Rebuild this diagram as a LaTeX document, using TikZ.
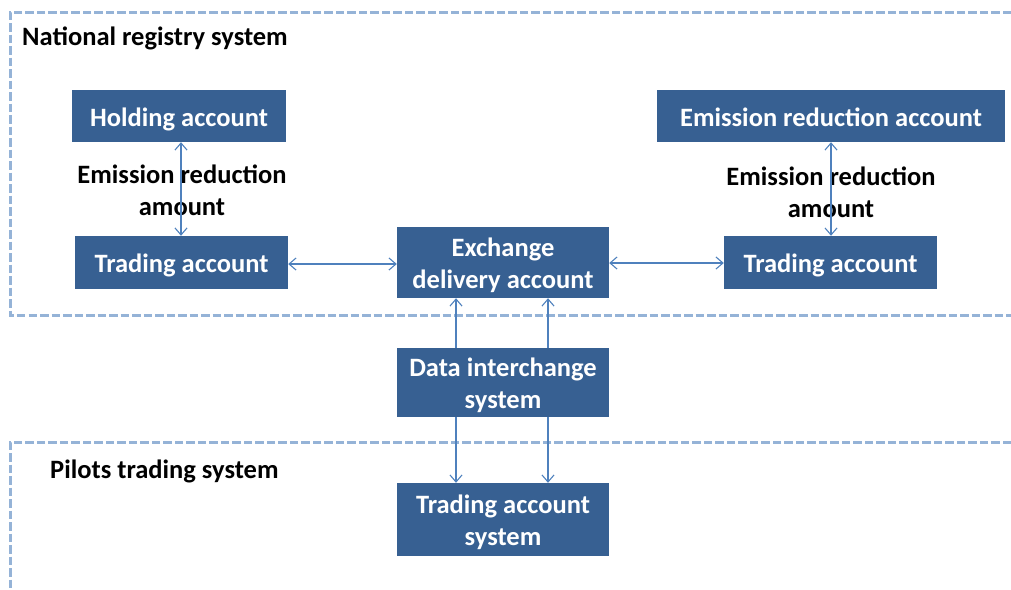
\documentclass[tikz,border=0pt]{standalone}
\usepackage{fontspec}
\setmainfont{Carlito}
\usetikzlibrary{arrows.meta}
\definecolor{boxblue}{RGB}{55,96,146}
\definecolor{dashblue}{RGB}{149,179,215}
\definecolor{arrblue}{RGB}{79,129,189}
\begin{document}
\begin{tikzpicture}[x=1pt,y=-1pt,
  acct/.style={fill=boxblue, text=white, font=\bfseries\fontsize{26.5}{32}\selectfont, align=center, inner sep=0pt,
    execute at begin node={\rule[-\fontchardp\font`g]{0pt}{\dimexpr\fontcharht\font`d+\fontchardp\font`g+6pt\relax}}},
  acctwo/.style={fill=boxblue, text=white, font=\bfseries\fontsize{26.5}{32}\selectfont, align=center, inner sep=0pt,
    execute at begin node={\rule[-\fontchardp\font`g]{0pt}{\dimexpr\fontcharht\font`d+\fontchardp\font`g+38pt\relax}}},
  lbl/.style={text=black, font=\bfseries\fontsize{26.5}{32}\selectfont, align=center, inner sep=0pt},
  region/.style={draw=dashblue, line width=3pt, dash pattern=on 8.5pt off 3pt},
  link/.style={draw=arrblue, line width=1.1pt, {Straight Barb[length=7pt,width=12pt]}-{Straight Barb[length=7pt,width=12pt]}},
  uplink/.style={draw=arrblue, line width=1.1pt, -{Straight Barb[length=7pt,width=12pt]}}
]
\useasboundingbox (0,0) rectangle (1011,589);
% dashed regions
\coordinate (r1a) at (1011,12);
\coordinate (r1b) at (10,12);
\coordinate (r1c) at (10,315);
\coordinate (r1d) at (1011,315);
\draw[region] (r1a) -- (r1b) -- (r1c) -- (r1d);
\coordinate (r2a) at (1011,442);
\coordinate (r2b) at (10,442);
\coordinate (r2c) at (10,589);
\draw[region] (r2a) -- (r2b) -- (r2c);
\node[lbl, anchor=west] (nrs) at (22,38.5) {National registry system};
\node[lbl, anchor=west] (pts) at (50,471.5) {Pilots trading system};
% nodes
\node[acct, minimum width=214pt, minimum height=52pt] (hold) at (179,116) {Holding account};
\node[acct, minimum width=348pt, minimum height=52pt] (era) at (831,116) {Emission reduction account};
\node[acct, minimum width=213pt, minimum height=53pt] (tl) at (181.5,262.5) {Trading account};
\node[acctwo, minimum width=212pt, minimum height=71pt] (exd) at (503,262.5) {Exchange\\delivery account};
\node[acct, minimum width=213pt, minimum height=53pt] (tr) at (830.5,262.5) {Trading account};
\node[acctwo, minimum width=212pt, minimum height=69pt] (dis) at (503,382.5) {Data interchange\\system};
\node[acctwo, minimum width=212pt, minimum height=73pt] (tas) at (503,519.5) {Trading account\\system};
\node[lbl] (eral) at (182,190.5) {Emission reduction\\amount};
\node[lbl] (erar) at (831,192.5) {Emission reduction\\amount};
% connectors
\draw[link] (hold.south -| 181,0) -- (tl.north -| 181,0);
\draw[link] (era.south -| 831,0) -- (tr.north -| 831,0);
\draw[link] (tl.east |- 0,264) -- (exd.west |- 0,264);
\draw[link] (exd.east |- 0,263) -- (tr.west |- 0,263);
\draw[uplink] (dis.north -| 456,0) -- (exd.south -| 456,0);
\draw[uplink] (dis.north -| 548,0) -- (exd.south -| 548,0);
\draw[uplink] (dis.south -| 456,0) -- (tas.north -| 456,0);
\draw[uplink] (dis.south -| 548,0) -- (tas.north -| 548,0);
\end{tikzpicture}
\end{document}
